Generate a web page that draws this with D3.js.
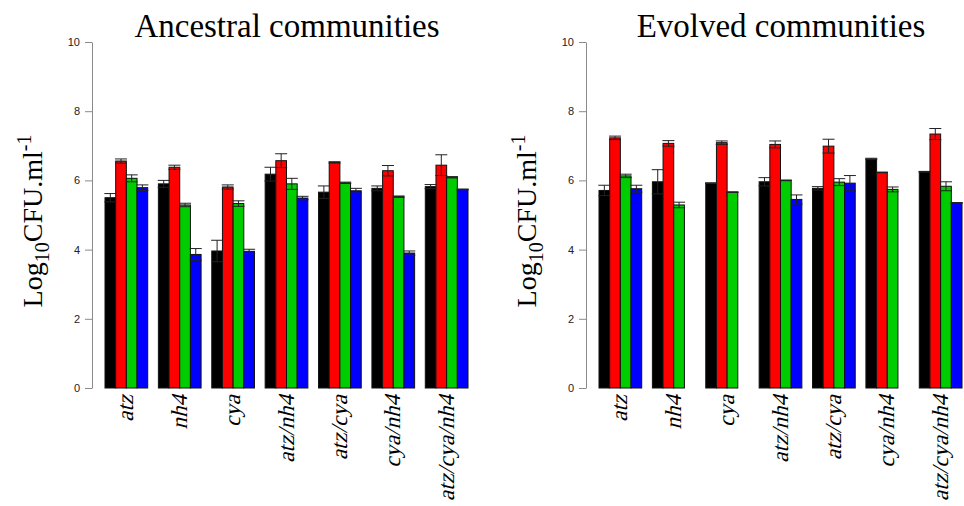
<!DOCTYPE html>
<html>
<head>
<meta charset="utf-8">
<script src="https://cdn.jsdelivr.net/npm/d3@7"></script>
<style>
  body { margin: 0; background: #fff; overflow: hidden; }
  .serif { font-family: "Liberation Serif", "Times New Roman", Times, serif; }
</style>
</head>
<body>
<script>
const groups = ["atz", "nh4", "cya", "atz/nh4", "atz/cya", "cya/nh4", "atz/cya/nh4"];
const barColors = ["#000000", "#ff0000", "#00cd00", "#0000ff"];
const yTicks = [0, 2, 4, 6, 8, 10];

// ancestral communities, one array per series (black, red, green, blue)
const ancBlack = [5.50, 5.90, 3.96, 6.18, 5.66, 5.77, 5.82];
const ancRed   = [6.56, 6.38, 5.81, 6.57, 6.52, 6.28, 6.44];
const ancGreen = [6.06, 5.29, 5.33, 5.90, 5.93, 5.53, 6.09];
const ancBlue  = [5.79, 3.86, 3.95, 5.49, 5.70, 3.90, 5.74];
const ancBlackErr = [0.12, 0.10, 0.31, 0.20, 0.18, 0.07, 0.06];
const ancRedErr   = [0.06, 0.06, 0.06, 0.20, 0.02, 0.15, 0.30];
const ancGreenErr = [0.10, 0.05, 0.08, 0.16, 0.02, 0.02, 0.02];
const ancBlueErr  = [0.08, 0.17, 0.06, 0.05, 0.07, 0.06, 0.01];

// evolved communities
const evoBlack = [5.71, 5.96, 5.92, 5.96, 5.77, 6.62, 6.25];
const evoRed   = [7.23, 7.07, 7.09, 7.04, 6.99, 6.23, 7.34];
const evoGreen = [6.13, 5.29, 5.66, 6.00, 5.95, 5.74, 5.83];
const evoBlue  = [5.76, 0, 0, 5.45, 5.92, 0, 5.35];
const evoBlackErr = [0.15, 0.35, 0.01, 0.12, 0.05, 0.02, 0.01];
const evoRedErr   = [0.05, 0.08, 0.05, 0.10, 0.20, 0.01, 0.16];
const evoGreenErr = [0.05, 0.08, 0.01, 0.01, 0.10, 0.07, 0.13];
const evoBlueErr  = [0.10, 0, 0, 0.13, 0.22, 0, 0.01];

const svg = d3.select("body").append("svg")
    .attr("width", 964)
    .attr("height", 506);

function makeRows(means, errs) {
    const rows = [];
    groups.forEach((g, i) => {
        means.forEach((series, j) => {
            rows.push({group: i, bar: j, value: series[i], err: errs[j][i], color: barColors[j]});
        });
    });
    return rows;
}

function drawPanel(axisX, title, means, errs) {
    const yScale = d3.scaleLinear().domain([0, 10]).range([388, 42]);
    // R style barplot units: group i, bar j spans [1 + 5i + j, 2 + 5i + j]
    const xScale = d3.scaleLinear().domain([1, 35]).range([axisX + 13, axisX + 376]);
    const g = svg.append("g");

    const yAxis = d3.axisLeft(yScale).tickValues(yTicks).tickSize(7).tickSizeOuter(0).tickPadding(5);
    const ax = g.append("g")
        .attr("transform", "translate(" + axisX + ",0)")
        .call(yAxis);
    ax.select(".domain").attr("stroke", "#8a8a8a");
    ax.selectAll(".tick line").attr("stroke", "#8a8a8a");
    ax.selectAll(".tick text")
        .attr("fill", "#222")
        .style("font-family", "'Liberation Sans', Arial, sans-serif")
        .style("font-size", "11px");

    const rows = makeRows(means, errs);
    const left = (d) => xScale(1 + 5 * d.group + d.bar);
    const bw = xScale(2) - xScale(1);

    g.selectAll("rect.bar").data(rows).enter().append("rect")
        .attr("class", "bar")
        .attr("x", (d) => left(d))
        .attr("y", (d) => yScale(d.value))
        .attr("width", bw)
        .attr("height", (d) => yScale(0) - yScale(d.value))
        .attr("fill", (d) => d.color)
        .attr("stroke", "#111")
        .attr("stroke-width", 1);

    // error bars (only where there is a bar)
    const withErr = rows.filter((d) => d.value > 0);
    const cx = (d) => left(d) + bw / 2;
    const eg = g.selectAll("g.err").data(withErr).enter().append("g")
        .attr("class", "err")
        .attr("stroke", "#222")
        .attr("stroke-width", 1);
    eg.append("line")
        .attr("x1", cx).attr("x2", cx)
        .attr("y1", (d) => yScale(d.value + d.err))
        .attr("y2", (d) => yScale(d.value - d.err));
    eg.append("line")
        .attr("x1", (d) => cx(d) - 6).attr("x2", (d) => cx(d) + 6)
        .attr("y1", (d) => yScale(d.value + d.err))
        .attr("y2", (d) => yScale(d.value + d.err));
    eg.append("line")
        .attr("x1", (d) => cx(d) - 6).attr("x2", (d) => cx(d) + 6)
        .attr("y1", (d) => yScale(d.value - d.err))
        .attr("y2", (d) => yScale(d.value - d.err));

    // group labels, rotated; slanted by hand
    g.selectAll("text.grp").data(groups).enter().append("text")
        .attr("class", "grp")
        .attr("transform", (d, i) => "translate(" + (xScale(3 + 5 * i) + 7) + ",395) rotate(-90) skewX(-14)")
        .attr("text-anchor", "end")
        .attr("font-family", "Liberation Serif")
        .attr("font-size", 23)
        .style("font-family", "'Liberation Serif'")
        .text((d) => d);

    // y label
    const yl = g.append("text")
        .attr("class", "serif")
        .attr("transform", "translate(" + (axisX - 50) + ",221) rotate(-90)")
        .attr("text-anchor", "middle")
        .style("font-size", "28px");
    yl.append("tspan").text("Log");
    yl.append("tspan").attr("dy", 7).style("font-size", "20px").text("10");
    yl.append("tspan").attr("dy", -7).text("CFU.ml");
    yl.append("tspan").attr("dy", -11).style("font-size", "20px").text("-1");

    g.append("text")
        .attr("class", "serif")
        .attr("x", axisX + 195)
        .attr("y", 37)
        .attr("text-anchor", "middle")
        .style("font-size", "33px")
        .text(title);
}

drawPanel(92, "Ancestral communities",
    [ancBlack, ancRed, ancGreen, ancBlue],
    [ancBlackErr, ancRedErr, ancGreenErr, ancBlueErr]);
drawPanel(586, "Evolved communities",
    [evoBlack, evoRed, evoGreen, evoBlue],
    [evoBlackErr, evoRedErr, evoGreenErr, evoBlueErr]);
</script>
</body>
</html>
